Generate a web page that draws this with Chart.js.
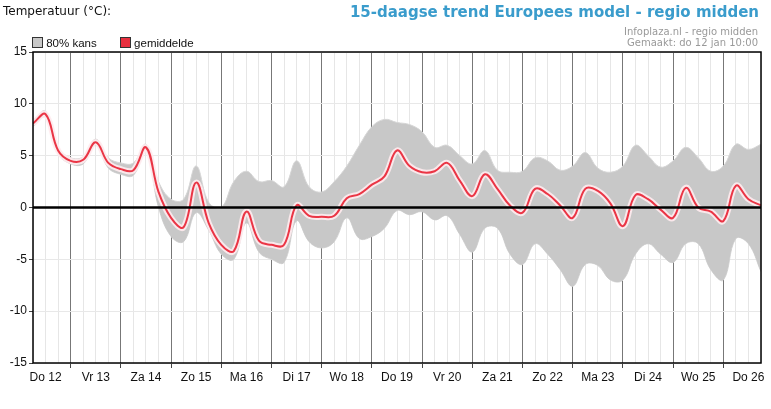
<!DOCTYPE html>
<html><head><meta charset="utf-8">
<script src="https://cdn.jsdelivr.net/npm/chart.js@4"></script>
<style>
body{margin:0;background:#fff;width:771px;height:409px;position:relative;overflow:hidden;font-family:"DejaVu Sans",sans-serif}
#c{position:absolute;left:0;top:0}
.t{position:absolute;white-space:nowrap}
</style></head><body>
<canvas id="c" width="771" height="409"></canvas>
<div class="t" style="left:3px;top:4px;font-size:12px;color:#111">Temperatuur (°C):</div>
<div class="t" style="right:12px;top:3px;font-size:15px;font-weight:bold;color:#3a9ccc">15-daagse trend Europees model - regio midden</div>
<div class="t" style="right:13px;top:26px;font-size:10px;color:#999;text-align:right;line-height:11px">Infoplaza.nl - regio midden<br>Gemaakt: do 12 jan 10:00</div>
<div class="t" style="left:32px;top:37px;font-size:11.5px;font-family:'Liberation Sans',Arial;color:#111">
<span style="display:inline-block;width:9px;height:9px;background:#c8c8c8;border:1px solid #333;vertical-align:-1px"></span> 80% kans
<span style="display:inline-block;width:9px;height:9px;background:#e8303f;border:1px solid #333;vertical-align:-1px;margin-left:20px"></span> gemiddelde</div>
<script>
const dayLabels=["Do 12","Vr 13","Za 14","Zo 15","Ma 16","Di 17","Wo 18","Do 19","Vr 20","Za 21","Zo 22","Ma 23","Di 24","Wo 25","Do 26"];
const hours=[];for(let h=6;h<=354;h+=6)hours.push(h);
const mean=[8.1,9.0,5.5,4.5,4.6,6.3,4.3,3.7,3.6,5.8,1.5,-1.0,-1.9,2.4,-1.5,-3.6,-4.2,-0.4,-3.2,-3.6,-3.6,0.2,-0.8,-0.9,-0.8,0.9,1.3,2.2,3.0,5.5,4.0,3.4,3.5,4.3,2.6,1.1,3.2,1.8,0.2,-0.5,1.8,1.3,0.2,-1.0,1.8,1.6,0.4,-1.8,1.2,0.8,-0.2,-1.0,1.9,0.0,-0.4,-1.3,2.1,0.8,0.2];
const upper=[8.4,9.3,5.8,4.8,4.9,6.6,4.8,4.3,4.3,6.1,2.5,0.8,0.8,4.0,0.5,0.0,2.5,3.5,2.5,2.6,2.0,4.5,2.0,1.5,2.5,4.0,6.0,7.8,8.5,8.2,8.0,7.3,5.8,6.0,5.0,4.2,5.5,3.6,3.4,3.5,4.8,4.5,3.6,4.0,5.3,3.8,3.4,4.0,6.0,5.0,3.9,4.5,5.8,4.8,3.5,4.0,6.1,5.6,6.1];
const lower=[7.8,8.7,5.2,4.2,4.2,6.0,3.8,3.2,3.1,5.5,0.0,-2.8,-3.3,-0.5,-2.2,-4.5,-5.0,-1.5,-4.3,-5.0,-5.3,-1.3,-3.3,-3.9,-3.3,-1.0,-3.0,-2.8,-2.0,-0.3,-0.7,-0.4,-1.2,-0.8,-2.6,-4.3,-2.0,-2.0,-4.5,-5.5,-3.5,-4.5,-6.0,-7.6,-5.5,-5.6,-7.0,-7.0,-4.5,-3.5,-4.5,-5.3,-3.5,-3.5,-6.0,-7.0,-3.0,-3.5,-6.2];
const yTicks=[-15,-10,-5,0,5,10,15];
const pts=a=>a.map((v,i)=>({x:hours[i],y:v}));
const border={id:'border',afterDatasetsDraw(c){const a=c.chartArea,x=c.ctx;x.save();x.strokeStyle='#000';x.lineWidth=1.5;x.strokeRect(a.left,a.top,a.right-a.left,a.bottom-a.top);
const y0=c.scales.y.getPixelForValue(0);x.lineWidth=2.5;x.beginPath();x.moveTo(a.left,y0);x.lineTo(a.right,y0);x.stroke();x.restore();}};
new Chart(document.getElementById('c'),{
type:'line',
data:{datasets:[
{data:pts(upper),borderColor:'#d6d6d6',borderWidth:1,backgroundColor:'#c8c8c8',fill:'+1',pointRadius:0,tension:0.4,order:3},
{data:pts(lower),borderColor:'#d6d6d6',borderWidth:1,fill:false,pointRadius:0,tension:0.4,order:3},
{data:pts(mean),borderColor:'rgba(255,235,238,0.9)',borderWidth:6,fill:false,pointRadius:0,tension:0.4,order:2},
{data:pts(mean),borderColor:'#ea3545',borderWidth:2,fill:false,pointRadius:0,tension:0.4,order:1}
]},
options:{responsive:false,animation:false,
layout:{padding:{top:52,right:10,left:0,bottom:0}},
plugins:{legend:{display:false},tooltip:{enabled:false}},
scales:{
x:{type:'linear',min:6,max:354,
afterBuildTicks(s){s.ticks=hours.map(h=>({value:h}));},
afterFit(s){s.height=46;},
grid:{color:c=>c.tick&&c.tick.value%24===0?'#777':'#e6e6e6',tickColor:c=>c.tick&&c.tick.value%24===0?'#444':'rgba(0,0,0,0)',tickLength:5,drawOnChartArea:true},
border:{display:false},
ticks:{autoSkip:false,maxRotation:0,color:'#111',font:{family:'Liberation Sans',size:12},padding:2,
callback:v=>v%24===12?dayLabels[(v-12)/24]:''}},
y:{min:-15,max:15,
afterBuildTicks(s){s.ticks=yTicks.map(v=>({value:v}));},
afterFit(s){s.width=33;},
grid:{color:'#e8e8e8',tickColor:'#444',tickLength:4},
border:{display:false},
ticks:{color:'#111',font:{family:'Liberation Sans',size:12},padding:2}}
}},
plugins:[border]});
</script></body></html>
